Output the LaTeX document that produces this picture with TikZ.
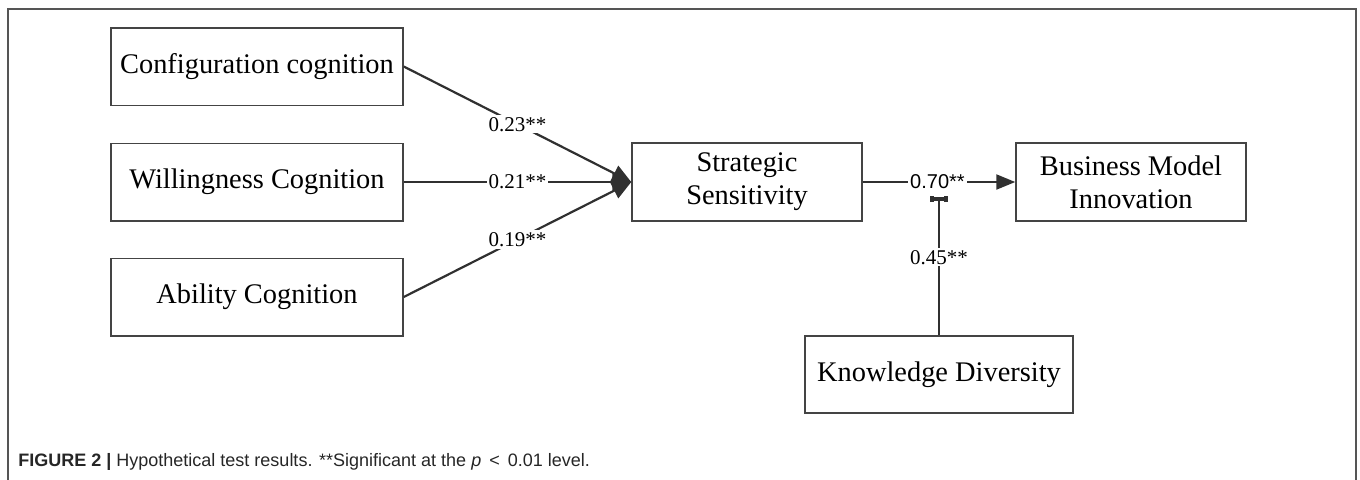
\documentclass[tikz,border=0pt]{standalone}
\usepackage{fontspec}
\setmainfont{Liberation Serif}
\newfontfamily\capfont{Liberation Sans}
\usetikzlibrary{arrows.meta}
\definecolor{linegray}{HTML}{303030}
\definecolor{boxgray}{HTML}{444444}
\definecolor{framegray}{HTML}{555555}
\tikzset{
  varbox/.style={draw=boxgray, line width=0.75pt, inner sep=0pt, align=center,
    font=\fontsize{14.2}{16.5}\selectfont, text=black},
  leftbox/.style={varbox, minimum width=146pt, minimum height=38.75pt},
  midbox/.style={varbox, minimum width=115pt, minimum height=39pt},
  kbox/.style={varbox, minimum width=134pt, minimum height=38.5pt},
  conn/.style={draw=linegray, line width=1.1pt},
  conntip/.style={-{Triangle[length=9.5pt,width=8.5pt]}},
  conntipb/.style={-{Triangle[length=9.5pt,width=7.5pt]}},
  teetip/.style={-{Tee Barb[width=9pt,length=3pt,line width=1.8pt]}},
  coef/.style={fill=white, inner sep=1pt, font=\fontsize{10.5}{12}\selectfont, text=black},
  coefsans/.style={coef, font=\capfont\fontsize{10}{12}\selectfont},
}
\begin{document}
\begin{tikzpicture}[x=0.5pt,y=-0.5pt]
\useasboundingbox (0,0) rectangle (1360,479);
% frame (open at the bottom, cut by the page edge)
\draw[framegray, line width=0.8pt] (8,490) -- (8,9) -- (1356,9) -- (1356,490);

\node[leftbox] (conf) at (257,66.5) {Configuration cognition};
\node[leftbox] (will) at (257,182) {Willingness Cognition};
\node[leftbox] (abil) at (257,297) {Ability Cognition};
\node[midbox] (strat) at (747,182) {Strategic\\Sensitivity};
\node[midbox] (bmi) at (1131,182) {Business Model\\Innovation};
\node[kbox] (know) at (939,374.5) {Knowledge Diversity};

\coordinate (modtop) at (939,196);

\draw[conn, conntip] (conf.east) -- node[coef] {0.23**} (strat.west);
\draw[conn, conntip] (will.east) -- node[coef] {0.21**} (strat.west);
\draw[conn, conntip] (abil.east) -- node[coef] {0.19**} (strat.west);
\draw[conn, conntipb] (strat.east) -- node[coefsans, pos=0.49] (c70) {0.70**} (bmi.west);
\draw[conn, teetip] (know.north) -- node[coef, pos=0.56] {0.45**} (modtop);

\node[anchor=west, inner sep=0pt, font=\capfont\fontsize{9}{11}\selectfont, text=black!85] (cap) at (18,462)
  {\textbf{FIGURE 2 |} Hypothetical test results. **Significant at the \textit{p} \,<\, 0.01 level.};
\end{tikzpicture}
\end{document}
